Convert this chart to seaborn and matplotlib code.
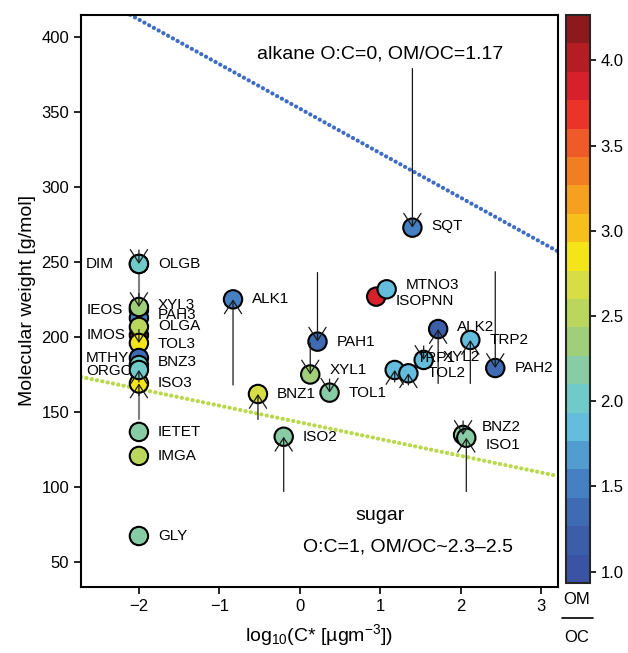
import matplotlib
matplotlib.use("Agg")
import matplotlib.pyplot as plt
import matplotlib as mpl
from matplotlib.colors import ListedColormap, BoundaryNorm
from matplotlib.lines import Line2D
import seaborn as sns
import numpy as np
import pandas as pd

sns.set_style("ticks")
plt.rcParams['font.family'] = ['Liberation Sans', 'DejaVu Sans']
plt.rcParams['mathtext.fontset'] = 'custom'
plt.rcParams['mathtext.rm'] = 'Liberation Sans'
plt.rcParams['mathtext.it'] = 'Liberation Sans:italic'
for key in ['text.color', 'axes.labelcolor', 'xtick.color', 'ytick.color']:
    plt.rcParams[key] = 'black'

# ------------------------------------------------------------
# data
# ------------------------------------------------------------
names = ['DIM', 'OLGB', 'IEOS', 'IMOS', 'PAH3', 'OLGA', 'XYL3', 'TOL3',
         'MTHY', 'BNZ3', 'ISO3', 'ORGC', 'IETET', 'IMGA', 'GLY',
         'ALK1', 'PAH1', 'XYL1', 'TOL1', 'BNZ1', 'ISO2', 'SQT',
         'ISOPNN', 'MTNO3', 'ALK2', 'TRP2', 'PAH2', 'TRP1', 'TOL2', 'XYL2',
         'BNZ2', 'ISO1']
log_cstar = [-2.0, -2.0, -2.0, -2.0, -2.0, -2.0, -2.0, -2.0,
             -2.0, -2.0, -2.0, -2.0, -2.0, -2.0, -2.0,
             -0.83, 0.22, 0.13, 0.37, -0.52, -0.20, 1.40,
             0.95, 1.08, 1.72, 2.12, 2.43, 1.18, 1.35, 1.54,
             2.03, 2.07]
mol_weight = [248.7, 248.7, 218.0, 201.3, 212.7, 206.7, 220.0, 196.0,
              186.0, 181.3, 169.0, 178.0, 136.7, 120.7, 67.3,
              225.1, 196.9, 175.0, 162.9, 162.0, 133.5, 272.9,
              226.9, 231.8, 205.3, 198.0, 179.3, 178.0, 175.8, 184.7,
              134.7, 132.8]
om_oc = [2.0, 2.0, 2.35, 4.15, 1.5, 2.55, 2.35, 2.8,
         1.35, 2.0, 2.85, 2.0, 2.2, 2.55, 2.2,
         1.45, 1.4, 2.35, 2.2, 2.7, 2.2, 1.45,
         3.85, 1.85, 1.2, 1.85, 1.35, 1.85, 1.85, 1.85,
         2.2, 2.2]
# molecular weight where each arrow starts (nan = no arrow)
mw_arrow_from = [np.nan, 258, np.nan, np.nan, np.nan, np.nan, 229, 205,
                 np.nan, np.nan, 161, 170, np.nan, np.nan, np.nan,
                 168, 243, 196, 172, 145, 97, 379,
                 np.nan, np.nan, 169, 169, 243.5, 170, 168, 194,
                 144, 97]

# reference lines (end points)
alkane_x = [-2.72, 3.21]
alkane_mw = [433.0, 257.0]
sugar_x = [-2.72, 3.21]
sugar_mw = [173.4, 107.3]
# grey range line of the clamped species
range_x = [-2.0, -2.0]
range_mw = [248.7, 145.0]

# colour bar
cbar_colors = ['#3a53a4', '#3b5daa', '#3e6bb4', '#4580c2', '#529dcf',
               '#64bddc', '#70cbc8', '#87cca4', '#a1ce7a', '#bad65d',
               '#d7de45', '#f4e51a', '#f6bf1c', '#f5a11f', '#f27e22',
               '#ee5a28', '#eb3429', '#d7212a', '#b41d23', '#8c1a1c']
cbar_bounds = np.linspace(0.9333, 4.2667, 21)
cbar_ticks = [1.0, 1.5, 2.0, 2.5, 3.0, 3.5, 4.0]

x_ticks = [-2, -1, 0, 1, 2, 3]
y_ticks = [50, 100, 150, 200, 250, 300, 350, 400]

# ------------------------------------------------------------
# label layout (offsets in points)
# ------------------------------------------------------------
left_labels = {'DIM', 'IEOS', 'IMOS', 'MTHY', 'ORGC'}
label_dy = {'XYL1': 2.9, 'SQT': 1.4, 'MTNO3': 2.9, 'ISOPNN': -2.9,
            'ALK2': 1.4, 'TRP1': 8.6, 'XYL2': 2.2, 'BNZ2': 5.8, 'ISO1': -5.0,
            'XYL3': 1.4, 'PAH3': 2.2, 'OLGA': 0.7, 'TOL3': -0.7,
            'BNZ3': 2.5, 'ORGC': -0.5}
label_dx = {'TRP1': 2.2}

df = pd.DataFrame({'name': names, 'logc': log_cstar, 'mw': mol_weight,
                   'omoc': om_oc, 'mw_from': mw_arrow_from})

cmap = ListedColormap(cbar_colors)
norm = BoundaryNorm(cbar_bounds, cmap.N)
palette = {n: cmap(norm(v)) for n, v in zip(df['name'], df['omoc'])}

fig = plt.figure(figsize=(6.28, 6.53), dpi=100)
ax = fig.add_axes([81 / 628, 1 - 587 / 653, 477 / 628, 572 / 653])

# reference lines
dot = (0, (0.05, 1.25))
sns.lineplot(x=alkane_x, y=alkane_mw, color='#3f6cc4', lw=3, linestyle=dot,
             dash_capstyle='round', ax=ax, zorder=1)
sns.lineplot(x=sugar_x, y=sugar_mw, color='#b9d84a', lw=3, linestyle=dot,
             dash_capstyle='round', ax=ax, zorder=1)
ax.plot(range_x, range_mw, color='#808080', lw=1.5, zorder=1.5)

# species
sns.scatterplot(data=df, x='logc', y='mw', hue='name', palette=palette,
                s=175, edgecolor='black', linewidth=1.5, legend=False,
                ax=ax, zorder=3)

# arrows
for _, r in df.iterrows():
    if np.isfinite(r['mw_from']):
        ax.annotate('', xy=(r['logc'], r['mw']), xytext=(r['logc'], r['mw_from']),
                    arrowprops=dict(arrowstyle='->,head_length=0.95,head_width=0.62',
                                    color='#1a1a1a', lw=0.9, shrinkA=0, shrinkB=0,
                                    mutation_scale=10),
                    zorder=4)

# labels
for _, r in df.iterrows():
    n = r['name']
    dy = label_dy.get(n, 0)
    if n in left_labels:
        ax.annotate(n, (r['logc'], r['mw']), xytext=(-38, dy),
                    textcoords='offset points', ha='left', va='center',
                    fontsize=11, zorder=5)
    else:
        ax.annotate(n, (r['logc'], r['mw']), xytext=(13.7 + label_dx.get(n, 0), dy),
                    textcoords='offset points', ha='left', va='center',
                    fontsize=11, zorder=5)

ax.text(1.0, 389, 'alkane O:C=0, OM/OC=1.17', ha='center', va='center', fontsize=14)
ax.text(1.0, 81.3, 'sugar', ha='center', va='center', fontsize=14)
ax.text(1.35, 60, 'O:C=1, OM/OC~2.3\u20132.5', ha='center', va='center', fontsize=14)

ax.set_xlim(-2.72, 3.21)
ax.set_ylim(33.3, 414.7)
ax.set_xticks(x_ticks)
ax.set_yticks(y_ticks)
ax.tick_params(axis='both', labelsize=12, length=5, width=1.2, direction='out',
               top=False, right=False)
for s in ax.spines.values():
    s.set_visible(True)
    s.set_linewidth(1.5)
    s.set_color('black')
ax.set_xlabel(r'log$_{10}$(C* [µgm$^{-3}$])', fontsize=14, labelpad=6)
ax.set_ylabel('Molecular weight [g/mol]', fontsize=14, labelpad=4)

# colour bar
cax = fig.add_axes([566 / 628, 1 - 583 / 653, 24 / 628, 568 / 653])
cb = fig.colorbar(mpl.cm.ScalarMappable(norm=norm, cmap=cmap), cax=cax,
                  ticks=cbar_ticks, spacing='proportional')
cb.minorticks_off()
cb.outline.set_linewidth(1.5)
cax.set_yticklabels([f'{t:.1f}' for t in cbar_ticks])
cax.tick_params(which='both', labelsize=12, length=4, width=1.2, direction='out')
cax.tick_params(which='minor', length=0)

fig.text(577 / 628, 1 - 600 / 653, 'OM', ha='center', va='center', fontsize=12)
fig.add_artist(Line2D([562 / 628, 593 / 628], [1 - 618 / 653] * 2,
                      color='black', lw=1.2, transform=fig.transFigure))
fig.text(577 / 628, 1 - 637 / 653, 'OC', ha='center', va='center', fontsize=12)

fig.savefig('out.png', dpi=100)
